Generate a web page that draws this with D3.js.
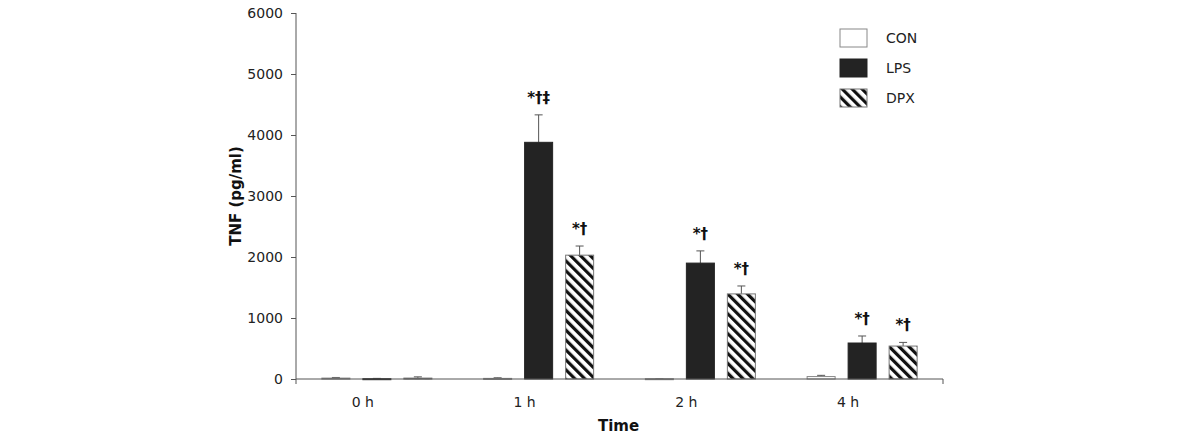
<!DOCTYPE html>
<html>
<head>
<meta charset="utf-8">
<script src="https://cdn.jsdelivr.net/npm/d3@7"></script>
<style>
  body { margin: 0; background: #fff; }
  text { font-family: "DejaVu Sans", Verdana, sans-serif; }
</style>
</head>
<body>
<svg id="chart" width="1200" height="440"></svg>
<script>
const times = ['0 h', '1 h', '2 h', '4 h'];
const groups = ['CON', 'LPS', 'DPX'];
const conValues = [15, 10, 5, 40];
const conErrors = [10, 10, 3, 20];
const lpsValues = [5, 3880, 1900, 590];
const lpsErrors = [5, 450, 200, 115];
const dpxValues = [15, 2030, 1395, 540];
const dpxErrors = [20, 150, 130, 60];
const marks = [['', '', ''], ['', '*†‡', '*†'], ['', '*†', '*†'], ['', '*†', '*†']];
const yTicks = [0, 1000, 2000, 3000, 4000, 5000, 6000];

const svg = d3.select('#chart');
const margin = {top: 13, left: 296, right: 257, bottom: 61};
const width = 1200 - margin.left - margin.right;
const height = 440 - margin.top - margin.bottom;

const defs = svg.append('defs');
const hatch = defs.append('pattern')
    .attr('id', 'hatch')
    .attr('patternUnits', 'userSpaceOnUse')
    .attr('width', 7)
    .attr('height', 7)
    .attr('patternTransform', 'rotate(-45)');
hatch.append('rect').attr('width', 7).attr('height', 7).attr('fill', '#fff');
hatch.append('rect').attr('width', 3.2).attr('height', 7).attr('fill', '#111');

const fills = d3.scaleOrdinal().domain(groups).range(['#fff', '#232323', 'url(#hatch)']);
const strokes = d3.scaleOrdinal().domain(groups).range(['#888', '#232323', '#777']);

const g = svg.append('g').attr('transform', `translate(${margin.left},${margin.top})`);

const x = d3.scaleBand().domain(times).range([0, width]);
const x1 = d3.scaleBand().domain(groups)
    .range([x.bandwidth() / 2 - 55, x.bandwidth() / 2 + 55]).paddingInner(0.317);
const y = d3.scaleLinear().domain([0, 6000]).range([height, 0]);

const data = [];
times.forEach((t, i) => {
  data.push({t, grp: 'CON', v: conValues[i], e: conErrors[i], m: marks[i][0]});
  data.push({t, grp: 'LPS', v: lpsValues[i], e: lpsErrors[i], m: marks[i][1]});
  data.push({t, grp: 'DPX', v: dpxValues[i], e: dpxErrors[i], m: marks[i][2]});
});

// error bars (upward only)
const err = g.selectAll('.err').data(data).join('g').attr('class', 'err')
    .attr('transform', d => `translate(${x(d.t) + x1(d.grp) + x1.bandwidth() / 2},0)`);
err.append('line')
    .attr('y1', d => y(d.v)).attr('y2', d => y(d.v + d.e))
    .attr('stroke', '#555').attr('stroke-width', 1);
err.append('line')
    .attr('x1', -4).attr('x2', 4)
    .attr('y1', d => y(d.v + d.e)).attr('y2', d => y(d.v + d.e))
    .attr('stroke', '#555').attr('stroke-width', 1);

g.selectAll('.bar').data(data).join('rect').attr('class', 'bar')
    .attr('x', d => x(d.t) + x1(d.grp))
    .attr('width', x1.bandwidth())
    .attr('y', d => y(d.v))
    .attr('height', d => Math.max(1, height - y(d.v)))
    .attr('fill', d => fills(d.grp))
    .attr('stroke', d => strokes(d.grp))
    .attr('stroke-width', 1);

g.selectAll('.mark').data(data.filter(d => d.m)).join('text').attr('class', 'mark')
    .attr('x', d => x(d.t) + x1(d.grp) + x1.bandwidth() / 2)
    .attr('y', d => y(d.v + d.e) - 12)
    .attr('text-anchor', 'middle')
    .attr('font-size', 15)
    .attr('font-weight', 'bold')
    .attr('fill', '#111')
    .text(d => d.m);

// y axis
const yAxis = g.append('g')
    .call(d3.axisLeft(y).tickValues(yTicks).tickFormat(d3.format('d')).tickSize(5).tickPadding(8));
yAxis.select('.domain').attr('stroke', '#555').attr('d', `M0,0V${height + 5}`);
yAxis.selectAll('.tick line').attr('stroke', '#555');
yAxis.selectAll('text').attr('font-size', 14).attr('fill', '#222')
    .style('font-family', '"DejaVu Sans", Verdana, sans-serif');

// x axis
const xAxis = g.append('g').attr('transform', `translate(0,${height})`)
    .call(d3.axisBottom(x).tickSize(0).tickPadding(18));
xAxis.select('.domain').attr('stroke', '#555').attr('d', `M0,0H${width}V5`);
xAxis.selectAll('text').attr('font-size', 14).attr('fill', '#222').attr('dx', -14)
    .style('font-family', '"DejaVu Sans", Verdana, sans-serif');

svg.append('text')
    .attr('x', margin.left + width / 2 - 1)
    .attr('y', 431)
    .attr('text-anchor', 'middle')
    .attr('font-size', 15)
    .attr('font-weight', 'bold')
    .attr('fill', '#111')
    .text('Time');

svg.append('text')
    .attr('transform', `translate(241,${margin.top + height / 2}) rotate(-90)`)
    .attr('text-anchor', 'middle')
    .attr('font-size', 15)
    .attr('font-weight', 'bold')
    .attr('fill', '#111')
    .text('TNF (pg/ml)');

// legend
const legend = svg.append('g').attr('transform', 'translate(840,29)');
const li = legend.selectAll('g').data(groups).join('g')
    .attr('transform', (d, i) => `translate(0,${i * 30})`);
li.append('rect')
    .attr('width', 27).attr('height', 18)
    .attr('fill', d => fills(d))
    .attr('stroke', d => strokes(d));
li.append('text')
    .attr('x', 46).attr('y', 14)
    .attr('font-size', 14)
    .attr('fill', '#222')
    .text(d => d);
</script>
</body>
</html>
